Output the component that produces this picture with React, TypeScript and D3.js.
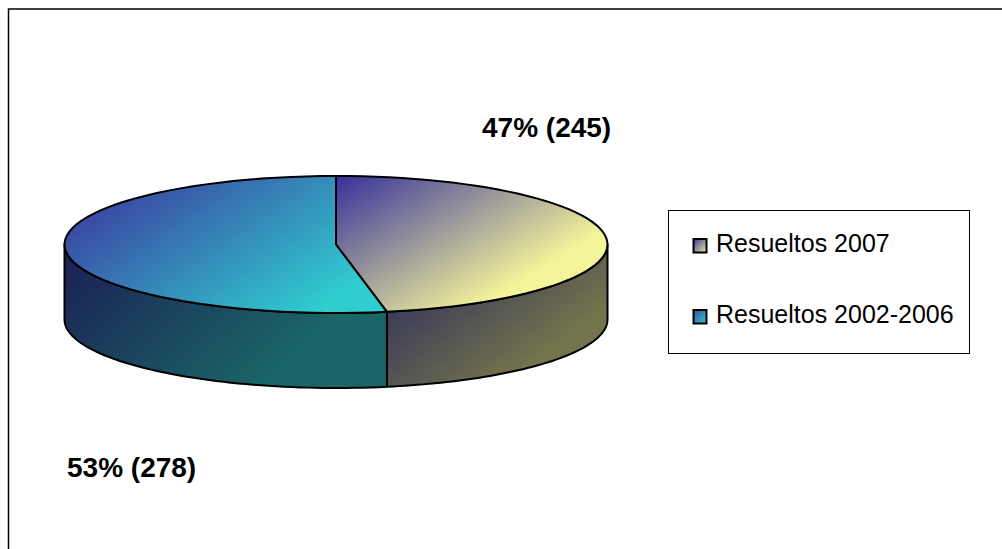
import { useEffect, useRef } from "react";
import * as d3 from "d3";

const categories = ["Resueltos 2007", "Resueltos 2002-2006"];
const shares = [47, 53];
const labels = ["47% (245)", "53% (278)"];
const topColors = [
    ["#35309c", "#f4f49a"],
    ["#3a4aa4", "#2fcdcf"],
];
const sideColors = [
    ["#38385a", "#74744c"],
    ["#1b2055", "#1a6666"],
];

const cx = 336;
const cy = 244.5;
const rx = 271.5;
const ry = 68.5;
const depth = 75;

const px = (a: number) => cx + rx * Math.sin(a);
const py = (a: number) => cy - ry * Math.cos(a);

// points along the rim between two angles
function rim(a0: number, a1: number) {
    const n = 60;
    return d3.range(n + 1).map((i) => a0 + ((a1 - a0) * i) / n);
}

function addGradient(defs: any, id: string, colors: string[], box: number[]) {
    const grad = defs
        .append("linearGradient")
        .attr("id", id)
        .attr("gradientUnits", "userSpaceOnUse")
        .attr("x1", box[0])
        .attr("y1", box[1])
        .attr("x2", box[2])
        .attr("y2", box[3]);
    grad.append("stop").attr("offset", "0%").attr("stop-color", colors[0]);
    grad.append("stop").attr("offset", "100%").attr("stop-color", colors[1]);
}

export default function App() {
    const ref = useRef<SVGSVGElement>(null);

    useEffect(() => {
        const svg = d3.select(ref.current);
        svg.selectAll("*").remove();

        const defs = svg.append("defs");

        // outer frame runs off the right and bottom of the picture
        svg.append("rect")
            .attr("x", 8.5)
            .attr("y", 9)
            .attr("width", 1010)
            .attr("height", 560)
            .attr("fill", "#fff")
            .attr("stroke", "#000")
            .attr("stroke-width", 1.5);

        const pie = d3.pie<number>().sort(null);
        const arcs = pie(shares);

        const line = d3
            .line<number>()
            .x((a) => px(a))
            .y((a) => py(a));
        const lineLow = d3
            .line<number>()
            .x((a) => px(a))
            .y((a) => py(a) + depth);

        addGradient(defs, "top0", topColors[0], [336, 176, 434, 335]);
        addGradient(defs, "top1", topColors[1], [59, 236, 174, 407]);
        addGradient(defs, "side0", sideColors[0], [390, 300, 475, 410]);
        addGradient(defs, "side1", sideColors[1], [70, 250, 230, 420]);
        addGradient(defs, "key0", topColors[0], [693, 239, 707, 253]);
        addGradient(defs, "key1", topColors[1], [693, 310, 707, 324]);

        // walls, only the part of each slice that faces the viewer
        arcs.forEach((d, i) => {
            const a0 = Math.max(d.startAngle, Math.PI / 2);
            const a1 = Math.min(d.endAngle, (3 * Math.PI) / 2);
            const angles = rim(a0, a1);
            const upper = line(angles) as string;
            const lower = lineLow(angles.slice().reverse()) as string;
            svg.append("path")
                .attr("d", upper + "L" + lower.slice(1) + "Z")
                .attr("fill", `url(#side${i})`)
                .attr("stroke", "#000")
                .attr("stroke-width", 2)
                .attr("stroke-linejoin", "round");
        });

        // top faces
        arcs.forEach((d, i) => {
            const angles = rim(d.startAngle, d.endAngle);
            svg.append("path")
                .attr("d", `M${cx},${cy}L` + (line(angles) as string).slice(1) + "Z")
                .attr("fill", `url(#top${i})`)
                .attr("stroke", "#000")
                .attr("stroke-width", 2)
                .attr("stroke-linejoin", "round");
        });

        const font = "'Liberation Sans', Arial, sans-serif";

        svg.append("text")
            .attr("x", 482)
            .attr("y", 137)
            .attr("font-family", font)
            .attr("font-size", 28)
            .attr("font-weight", "bold")
            .text(labels[0]);
        svg.append("text")
            .attr("x", 67)
            .attr("y", 477)
            .attr("font-family", font)
            .attr("font-size", 28)
            .attr("font-weight", "bold")
            .text(labels[1]);

        // legend
        svg.append("rect")
            .attr("x", 668.5)
            .attr("y", 210.5)
            .attr("width", 301)
            .attr("height", 143)
            .attr("fill", "#fff")
            .attr("stroke", "#000");

        categories.forEach((c, i) => {
            const y = 239 + i * 71;
            svg.append("rect")
                .attr("x", 693.5)
                .attr("y", y)
                .attr("width", 13)
                .attr("height", 13.5)
                .attr("fill", `url(#key${i})`)
                .attr("stroke", "#000")
                .attr("stroke-width", 2);
            svg.append("text")
                .attr("x", 716)
                .attr("y", y + 13)
                .attr("font-family", font)
                .attr("font-size", 25)
                .text(c);
        });
    }, []);

    return (
        <svg
            ref={ref}
            width={1002}
            height={549}
            style={{ position: "absolute", left: 0, top: 0 }}
        ></svg>
    );
}
